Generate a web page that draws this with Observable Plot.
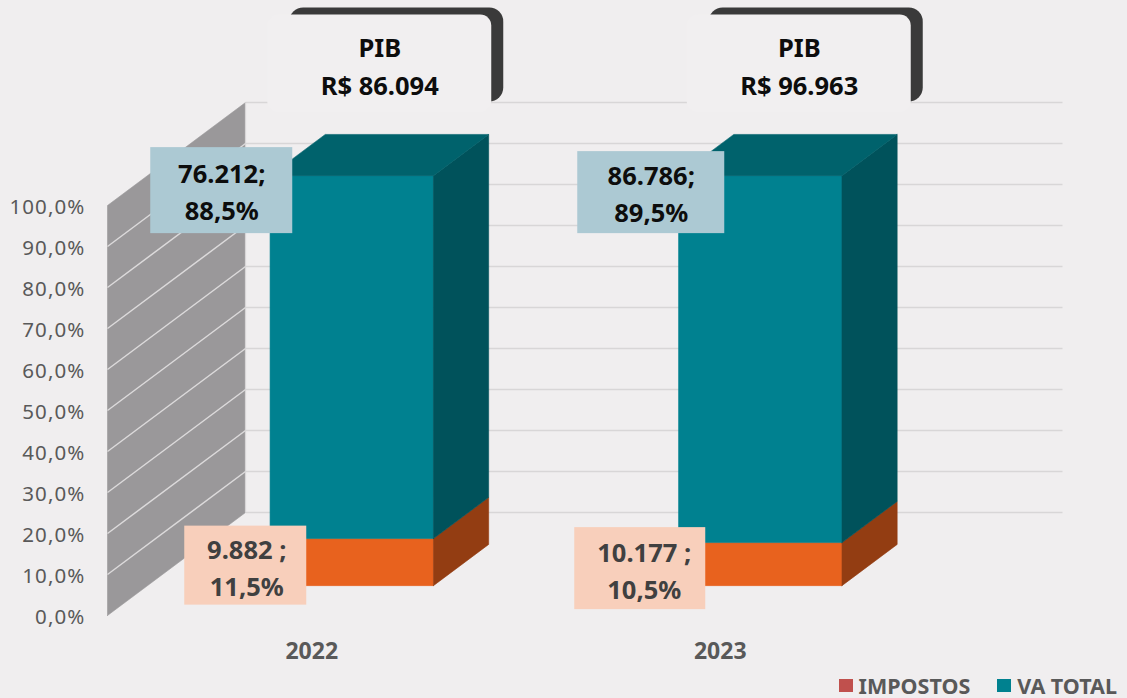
<!DOCTYPE html>
<html>
<head>
<meta charset="utf-8">
<script src="https://cdn.jsdelivr.net/npm/d3@7"></script>
<script src="https://cdn.jsdelivr.net/npm/@observablehq/plot@0.6"></script>
<style>
  html, body { margin: 0; padding: 0; background: #f0eeef; }
  #chart { width: 1127px; height: 698px; overflow: hidden; }
  #chart svg { display: block; }
  g[aria-label="y-axis tick label"] { letter-spacing: 1.1px; }
  .legend { height: 30px; box-sizing: border-box; padding-top: 5px; padding-right: 10px;
            display: flex; justify-content: flex-end; align-items: center; line-height: 22px;
            font-family: "Noto Sans", sans-serif; font-weight: bold; font-size: 21.5px; color: #595959; }
  .legend .item { display: flex; align-items: center; margin-left: 27px; height: 22px; }
  .legend .sw { width: 14px; height: 13px; display: inline-block; margin-right: 6px; }
</style>
</head>
<body>
<div id="chart"></div>
<script>
// ---------- DATA ----------
const years = ["2022", "2023"];
const impostos = [9882, 10177];     // IMPOSTOS (R$ milhões)
const vaTotal = [76212, 86786];     // VA TOTAL
const seriesNames = ["IMPOSTOS", "VA TOTAL"];
const yTicks = [0, 10, 20, 30, 40, 50, 60, 70, 80, 90, 100];

// ---------- FORMAT ----------
const loc = d3.formatLocale({decimal: ",", thousands: ".", grouping: [3], currency: ["R$ ", ""]});
const fmtInt = loc.format(",d");
const fmtPct = loc.format(".1f");

// ---------- LAYOUT ----------
const W = 1127, H = 668, ML = 107, MR = 203, MT = 205, MB = 53;
const PXX = (W - ML - MR) / 2;     // px per x unit
const PXY = (H - MT - MB) / 100;   // px per percentage point
const ux = px => px / PXX;
const uy = px => px / PXY;
const DX = ux(138), DY = uy(103);  // oblique depth offset (full depth)
const P = (x, p, d) => ({x: x + d * DX, y: p + d * DY});
const F0 = 0.29, F1 = 0.69, HW = 0.2;

const C = {
  wall: "#9a989a", wallLine: "#dcdadb", grid: "#d8d6d7",
  impFront: "#e8621e", impSide: "#933d12",
  vaFront: "#008190", vaSide: "#00525b", vaTop: "#00626c",
  vaLabel: "#acc9d3", impLabel: "#f8cfbb",
  pibDark: "#3a3a3a", pibBox: "#f1eff0",
  legImp: "#c0504d", legVa: "#00818f"
};

const L = {
  pibX: [68, 79],
  vaX: [-90, -69], vaW: [142, 147], vaH: [86, 82], vaDy: [15, 17],
  impX: [-66, -80], impW: [122, 131], impH: [79, 82], impUp: [20, 17], impTx: [1, 4]
};

const cats = years.map((year, i) => {
  const pib = impostos[i] + vaTotal[i];
  return {year, i, c: i + 0.5, imp: impostos[i], va: vaTotal[i], pib,
          impPct: 100 * impostos[i] / pib, vaPct: 100 * vaTotal[i] / pib};
});

// ---------- POLYGONS ----------
const polys = [];
polys.push({pts: [P(0, 0, 0), P(0, 100, 0), P(0, 100, 1), P(0, 0, 1)], fill: C.wall});
const barPolys = [];
for (const d of cats) {
  const segs = [
    {y0: 0, y1: d.impPct, front: C.impFront, side: C.impSide},
    {y0: d.impPct, y1: 100, front: C.vaFront, side: C.vaSide, top: C.vaTop}
  ];
  for (const s of segs) {
    barPolys.push({pts: [P(d.c - HW, s.y0, F0), P(d.c + HW, s.y0, F0), P(d.c + HW, s.y1, F0), P(d.c - HW, s.y1, F0)], fill: s.front});
    barPolys.push({pts: [P(d.c + HW, s.y0, F0), P(d.c + HW, s.y0, F1), P(d.c + HW, s.y1, F1), P(d.c + HW, s.y1, F0)], fill: s.side});
    if (s.top) barPolys.push({pts: [P(d.c - HW, s.y1, F0), P(d.c + HW, s.y1, F0), P(d.c + HW, s.y1, F1), P(d.c - HW, s.y1, F1)], fill: s.top});
  }
}
const polyMark = p => Plot.line([...p.pts, p.pts[0]], {x: "x", y: "y", fill: p.fill, stroke: p.fill, strokeWidth: 0.6});

const wallTicks = yTicks.filter(t => t > 0 && t < 100);

// label anchors
const backTop = 100 + DY;
const frontTop = 100 + F0 * DY;
const frontBottom = F0 * DY;
const pib = cats.map(d => {
  const ax = d.c + ux(L.pibX[d.i]);
  return {...d, ax,
    dx1: ax + ux(-90), dx2: ax + ux(124), dy1: backTop + uy(0.5), dy2: backTop + uy(94.5),
    wx1: ax + ux(-112), wx2: ax + ux(112), wy1: backTop + uy(-10), wy2: backTop + uy(87.5),
    ty: backTop + uy(40.5), label: `PIB\nR$ ${fmtInt(d.pib)}`};
});
const vaLab = cats.map(d => {
  const ax = d.c + ux(L.vaX[d.i]), ay = frontTop - uy(L.vaDy[d.i]);
  return {ax, ay, x1: ax - ux(L.vaW[d.i] / 2), x2: ax + ux(L.vaW[d.i] / 2),
          y1: ay - uy(L.vaH[d.i] / 2), y2: ay + uy(L.vaH[d.i] / 2),
          label: `${fmtInt(d.va)};\n${fmtPct(d.vaPct)}%`};
});
const impLab = cats.map(d => {
  const ax = d.c + ux(L.impX[d.i]), ay = frontBottom + uy(L.impUp[d.i]);
  return {ax, ay, tx: ax + ux(L.impTx[d.i]), x1: ax - ux(L.impW[d.i] / 2), x2: ax + ux(L.impW[d.i] / 2),
          y1: ay - uy(L.impH[d.i] / 2), y2: ay + uy(L.impH[d.i] / 2),
          label: `${fmtInt(d.imp)} ;\n${fmtPct(d.impPct)}%`};
});

const boldText = {fontFamily: "Noto Sans", fontWeight: "bold", fontSize: 25.5, lineHeight: 1.46};

const chart = Plot.plot({
  width: W, height: H,
  marginLeft: ML, marginRight: MR, marginTop: MT, marginBottom: MB,
  style: {background: "#f0eeef", fontFamily: "Noto Sans", fontSize: "20px", color: "#595959"},
  x: {type: "linear", domain: [0, 2], axis: null},
  y: {type: "linear", domain: [0, 100]},
  marks: [
    ...polys.map(polyMark),
    Plot.link(wallTicks, {x1: t => P(0, t, 0).x, y1: t => P(0, t, 0).y, x2: t => P(0, t, 1).x, y2: t => P(0, t, 1).y,
                          stroke: C.wallLine, strokeWidth: 1.5}),
    Plot.link(yTicks, {x1: t => P(0, t, 1).x, y1: t => P(0, t, 1).y, x2: t => P(2, t, 1).x, y2: t => P(2, t, 1).y,
                       stroke: C.grid, strokeWidth: 1.6}),
    Plot.link([0], {x1: () => P(0, 0, 1).x, y1: () => P(0, 0, 1).y, x2: () => P(0, 100, 1).x, y2: () => P(0, 100, 1).y,
                    stroke: C.grid, strokeWidth: 1.2}),
    ...barPolys.map(polyMark),
    Plot.rect(pib, {x1: "dx1", x2: "dx2", y1: "dy1", y2: "dy2", fill: C.pibDark, rx: 14}),
    Plot.rect(pib, {x1: "wx1", x2: "wx2", y1: "wy1", y2: "wy2", fill: C.pibBox, rx: 11}),
    Plot.text(pib, {x: "ax", y: "ty", text: "label", fill: "#0d0d0d", dy: 2, ...boldText}),
    Plot.rect(vaLab, {x1: "x1", x2: "x2", y1: "y1", y2: "y2", fill: C.vaLabel}),
    Plot.text(vaLab, {x: "ax", y: "ay", text: "label", fill: "#0d0d0d", dy: -1, ...boldText}),
    Plot.rect(impLab, {x1: "x1", x2: "x2", y1: "y1", y2: "y2", fill: C.impLabel}),
    Plot.text(impLab, {x: "tx", y: "ay", text: "label", fill: "#404040", dy: 0, ...boldText}),
    Plot.axisY(yTicks, {tickSize: 0, tickPadding: 22, tickFormat: t => fmtPct(t) + "%", fontSize: 20.5, dy: 2}),
    Plot.text(cats, {x: "c", y: 0, text: "year", dy: 36, fontFamily: "Noto Sans", fontWeight: "bold", fontSize: 23, fill: "#595959"})
  ]
});

const root = document.getElementById("chart");
root.appendChild(chart);

const legend = document.createElement("div");
legend.className = "legend";
const legColors = [C.legImp, C.legVa];
seriesNames.forEach((name, i) => {
  const item = document.createElement("span");
  item.className = "item";
  const sw = document.createElement("span");
  sw.className = "sw";
  sw.style.background = legColors[i];
  item.appendChild(sw);
  item.appendChild(document.createTextNode(name));
  legend.appendChild(item);
});
root.appendChild(legend);
</script>
</body>
</html>
